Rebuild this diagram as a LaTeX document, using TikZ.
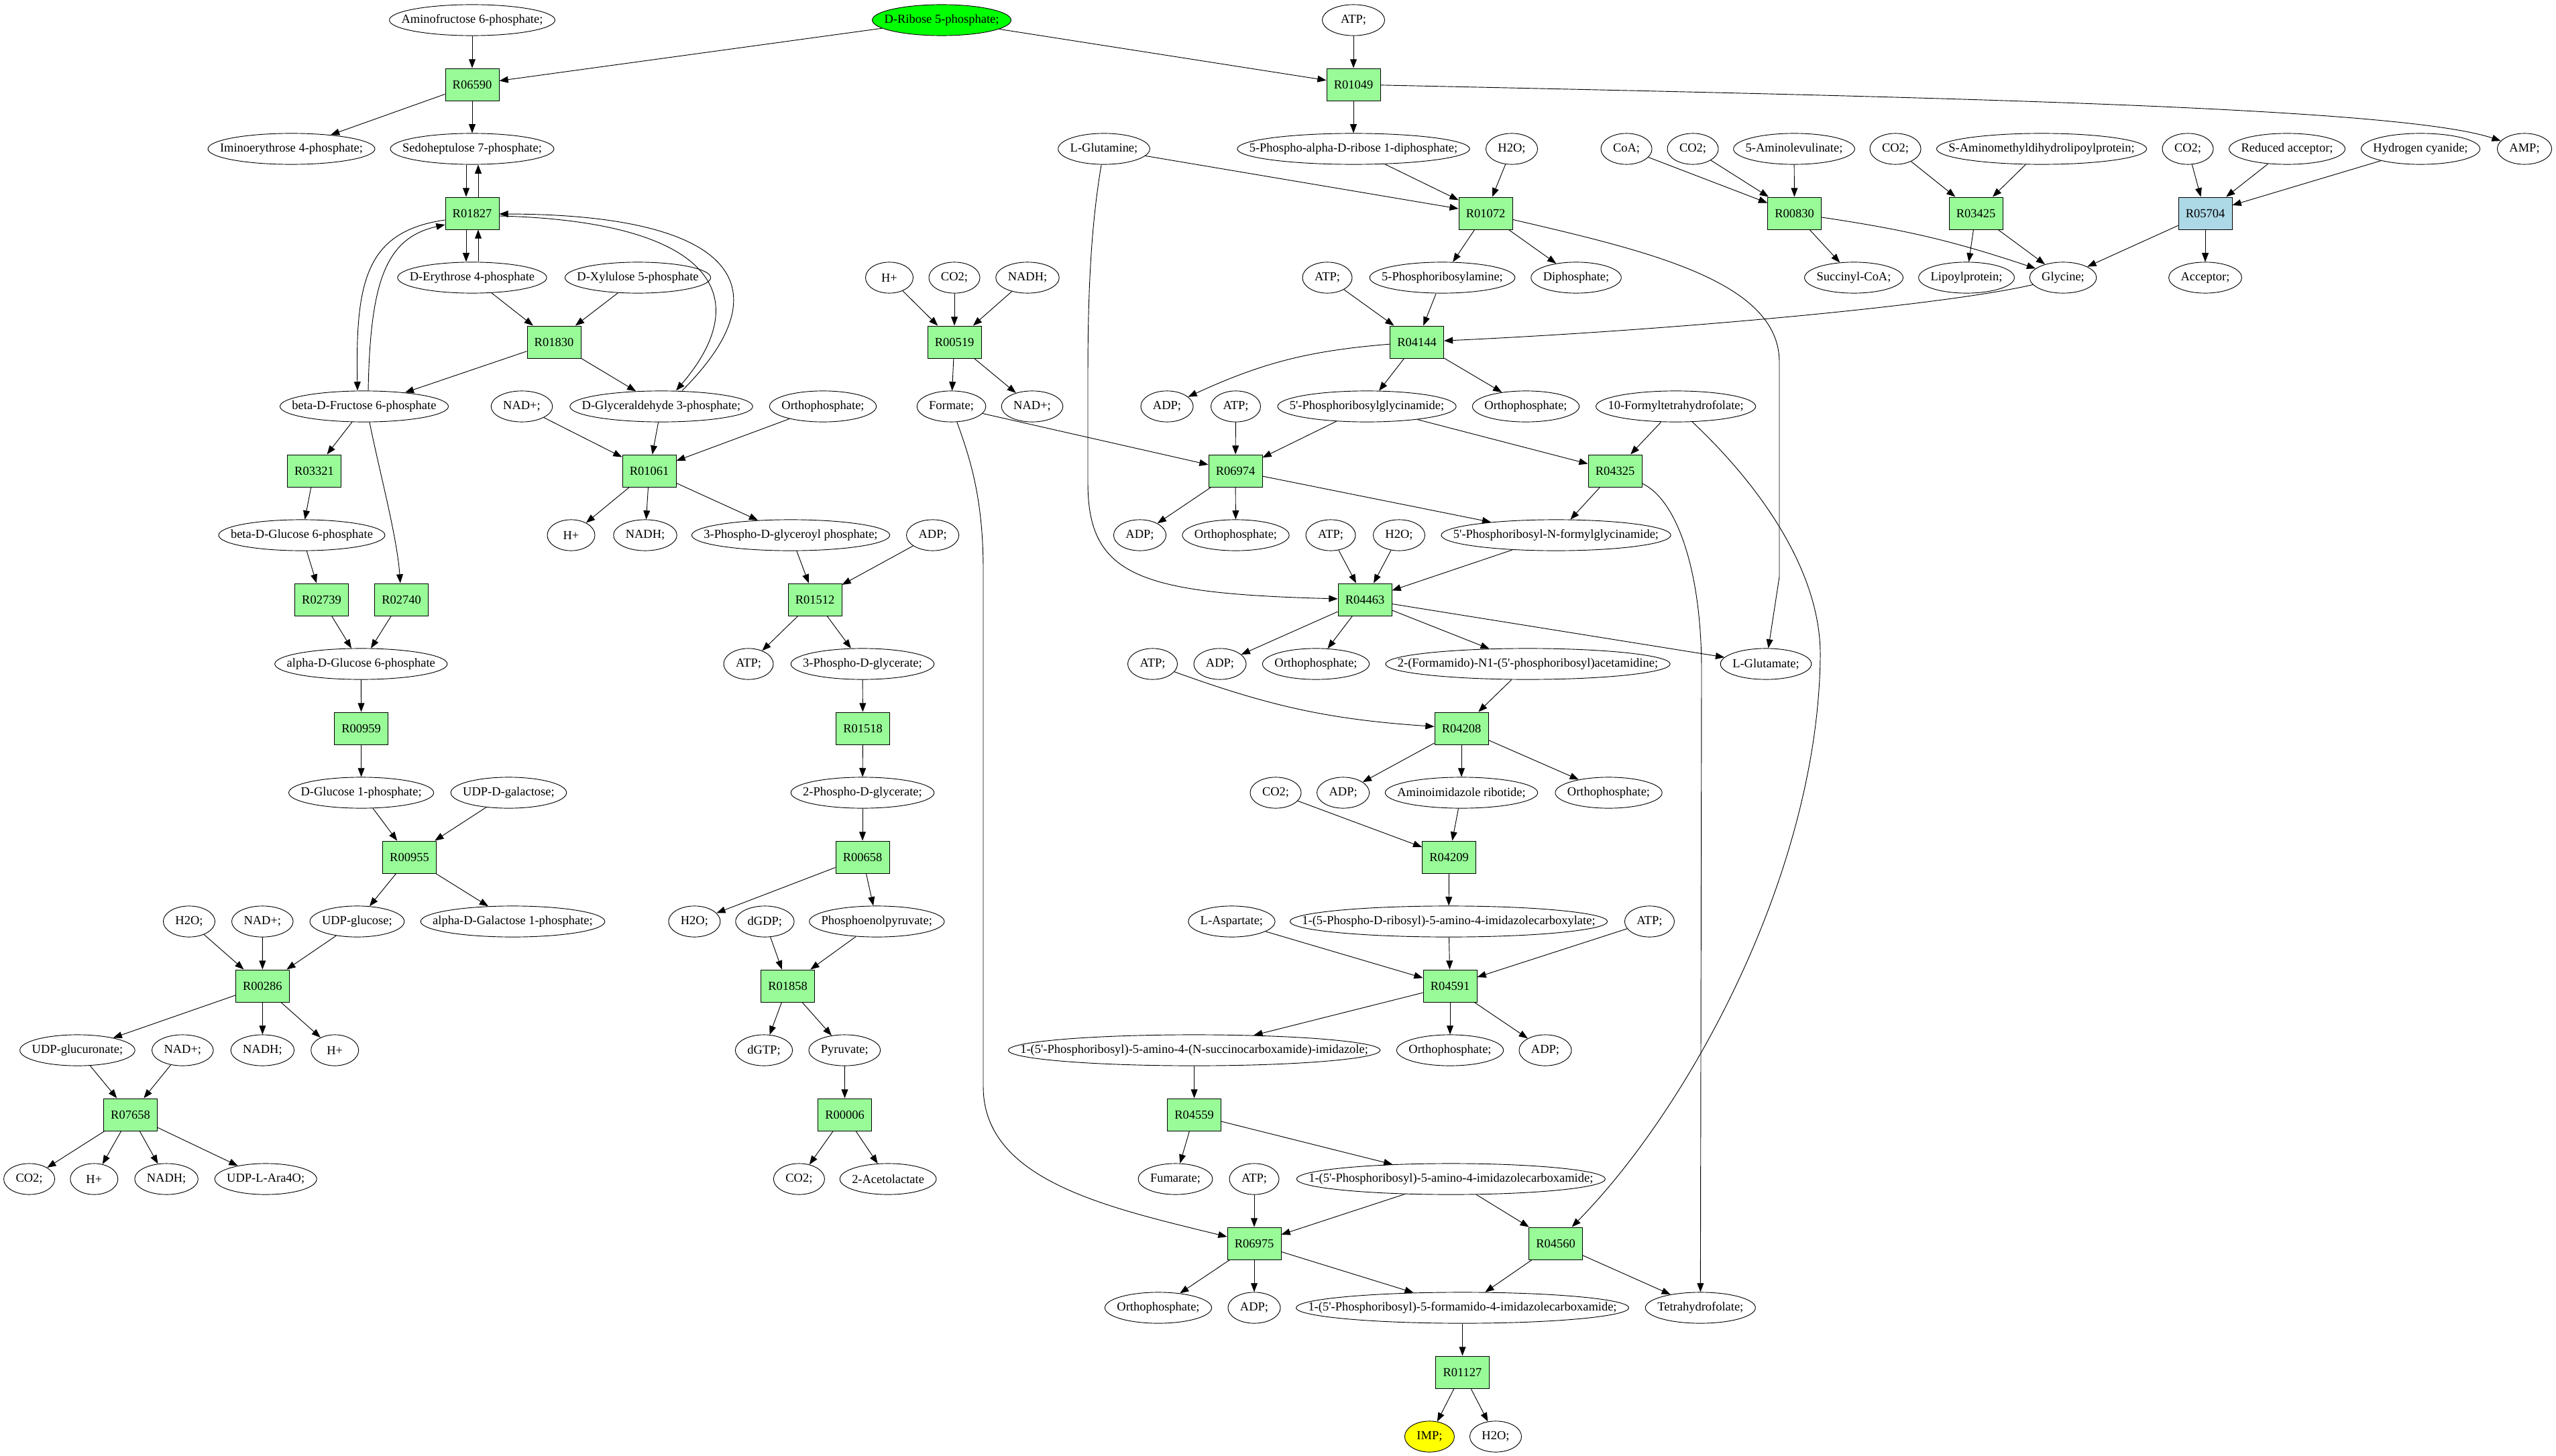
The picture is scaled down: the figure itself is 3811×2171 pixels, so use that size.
\documentclass[tikz,border=0pt]{standalone}
\usepackage{fontspec}
\newfontfamily\gvfont{Liberation Serif}
\usetikzlibrary{arrows.meta,shapes.geometric}
\newcommand\gvf{\gvfont\fontsize{14pt}{16pt}\selectfont}
\newcommand\ml[1]{\makebox[0.7071\width]{#1}}
\definecolor{pgreen}{HTML}{98FB98}
\definecolor{lblue}{HTML}{ADD8E6}
\definecolor{vgreen}{HTML}{00FF00}
\definecolor{vyellow}{HTML}{FFFF00}
\tikzset{
 met/.style={ellipse, draw, line width=0.7pt, font=\gvf, inner xsep=9.65pt, inner ysep=1pt, minimum width=53.8pt, minimum height=35pt},
 rxn/.style={rectangle, draw, line width=0.7pt, fill=pgreen, font=\gvf, minimum width=60.6pt, minimum height=36.4pt, inner sep=0pt},
 arr/.style={-{Triangle[length=10pt,width=7.5pt]}, line width=0.7pt},
}
\begin{document}
\begin{tikzpicture}[x=0.7576pt,y=-0.7576pt]
\fill[white] (0,0) rectangle (3811,2171);
\useasboundingbox (0,0) rectangle (3811,2171);
% row 0
\node[met] (amf) at (704,30) {\ml{Aminofructose 6-phosphate;}};
\node[met, fill=vgreen] (r5p) at (1404,30) {\ml{D-Ribose 5-phosphate;}};
\node[met, minimum width=70.5pt] (atpA) at (2018,30) {\ml{ATP;}};
% row 1
\node[rxn] (R06590) at (704,126) {R06590};
\node[rxn] (R01049) at (2018,126) {R01049};
% row 2
\node[met] (imi) at (434.5,222) {\ml{Iminoerythrose 4-phosphate;}};
\node[met] (sed) at (704,222) {\ml{Sedoheptulose 7-phosphate;}};
\node[met] (gln) at (1646,222) {\ml{L-Glutamine;}};
\node[met] (prpp) at (2018,222) {\ml{5-Phospho-alpha-D-ribose 1-diphosphate;}};
\node[met] (h2oA) at (2254,222) {\ml{H2O;}};
\node[met] (coa) at (2425,222) {\ml{CoA;}};
\node[met] (co2A) at (2524,222) {\ml{CO2;}};
\node[met] (ala) at (2675,222) {\ml{5-Aminolevulinate;}};
\node[met] (co2B) at (2826,222) {\ml{CO2;}};
\node[met] (samdl) at (3044,222) {\ml{S-Aminomethyldihydrolipoylprotein;}};
\node[met] (co2C) at (3262,222) {\ml{CO2;}};
\node[met] (redacc) at (3410,222) {\ml{Reduced acceptor;}};
\node[met] (hcn) at (3609,222) {\ml{Hydrogen cyanide;}};
\node[met] (amp) at (3764,222) {\ml{AMP;}};
% row 3
\node[rxn] (R01827) at (704,318) {R01827};
\node[rxn] (R01072) at (2215,318) {R01072};
\node[rxn] (R00830) at (2675.6,318) {R00830};
\node[rxn] (R03425) at (2946,318) {R03425};
\node[rxn, fill=lblue] (R05704) at (3288,318) {R05704};
% row 4
\node[met] (e4p) at (704,414) {\ml{D-Erythrose 4-phosphate}};
\node[met] (x5p) at (951,414) {\ml{D-Xylulose 5-phosphate}};
\node[met] (hA) at (1326,414) {\ml{H+}};
\node[met] (co2D) at (1423,414) {\ml{CO2;}};
\node[met] (nadhA) at (1532,414) {\ml{NADH;}};
\node[met] (atpB) at (1979,414) {\ml{ATP;}};
\node[met] (pra) at (2150.5,414) {\ml{5-Phosphoribosylamine;}};
\node[met] (ppi) at (2350,414) {\ml{Diphosphate;}};
\node[met] (succoa) at (2764,414) {\ml{Succinyl-CoA;}};
\node[met] (lipo) at (2932,414) {\ml{Lipoylprotein;}};
\node[met] (gly) at (3076,414) {\ml{Glycine;}};
\node[met] (acc) at (3288,414) {\ml{Acceptor;}};
% row 5
\node[rxn] (R01830) at (826,510) {R01830};
\node[rxn] (R00519) at (1423,510) {R00519};
\node[rxn] (R04144) at (2112.5,510) {R04144};
% row 6
\node[met] (f6p) at (543,606) {\ml{beta-D-Fructose 6-phosphate}};
\node[met] (nadA) at (778,606) {\ml{NAD+;}};
\node[met] (g3p) at (986,606) {\ml{D-Glyceraldehyde 3-phosphate;}};
\node[met] (piA) at (1227,606) {\ml{Orthophosphate;}};
\node[met] (formate) at (1418.5,606) {\ml{Formate;}};
\node[met] (nadB) at (1539,606) {\ml{NAD+;}};
\node[met] (adpA) at (1740,606) {\ml{ADP;}};
\node[met] (atpC) at (1842.5,606) {\ml{ATP;}};
\node[met] (gar) at (2038,606) {\ml{5'-Phosphoribosylglycinamide;}};
\node[met] (piB) at (2275,606) {\ml{Orthophosphate;}};
\node[met] (fthf) at (2498.6,606) {\ml{10-Formyltetrahydrofolate;}};
% row 7
\node[rxn] (R03321) at (468.5,702) {R03321};
\node[rxn] (R01061) at (968,702) {R01061};
\node[rxn] (R06974) at (1842,702) {R06974};
\node[rxn] (R04325) at (2408,702) {R04325};
% row 8
\node[met] (bg6p) at (450,798) {\ml{beta-D-Glucose 6-phosphate}};
\node[met] (hB) at (851.5,798) {\ml{H+}};
\node[met] (nadhB) at (962,798) {\ml{NADH;}};
\node[met] (bpg) at (1179,798) {\ml{3-Phospho-D-glyceroyl phosphate;}};
\node[met] (adpB) at (1390.6,798) {\ml{ADP;}};
\node[met] (adpC) at (1699.5,798) {\ml{ADP;}};
\node[met] (piC) at (1842.5,798) {\ml{Orthophosphate;}};
\node[met] (atpD) at (1984,798) {\ml{ATP;}};
\node[met] (h2oB) at (2086,798) {\ml{H2O;}};
\node[met] (fgar) at (2320,798) {\ml{5'-Phosphoribosyl-N-formylglycinamide;}};
% row 9
\node[rxn] (R02739) at (479.5,894) {R02739};
\node[rxn] (R02740) at (598.6,894) {R02740};
\node[rxn] (R01512) at (1215,894) {R01512};
\node[rxn] (R04463) at (2035,894) {R04463};
% row 10
\node[met] (ag6p) at (538.3,990) {\ml{alpha-D-Glucose 6-phosphate}};
\node[met] (atpE) at (1116,990) {\ml{ATP;}};
\node[met] (pg3) at (1286,990) {\ml{3-Phospho-D-glycerate;}};
\node[met] (atpF) at (1718.5,990) {\ml{ATP;}};
\node[met] (adpD) at (1819,990) {\ml{ADP;}};
\node[met] (piD) at (1962,990) {\ml{Orthophosphate;}};
\node[met] (fgam) at (2278,990) {\ml{2-(Formamido)-N1-(5'-phosphoribosyl)acetamidine;}};
\node[met] (glu) at (2633,990) {\ml{L-Glutamate;}};
% row 11
\node[rxn] (R00959) at (538.6,1086) {R00959};
\node[rxn] (R01518) at (1286.5,1086) {R01518};
\node[rxn] (R04208) at (2179,1086) {R04208};
% row 12
\node[met] (g1p) at (538.6,1182) {\ml{D-Glucose 1-phosphate;}};
\node[met] (udpgal) at (758.4,1182) {\ml{UDP-D-galactose;}};
\node[met] (pg2) at (1286,1182) {\ml{2-Phospho-D-glycerate;}};
\node[met] (co2E) at (1902,1182) {\ml{CO2;}};
\node[met] (adpE) at (2002.6,1182) {\ml{ADP;}};
\node[met] (air) at (2179,1182) {\ml{Aminoimidazole ribotide;}};
\node[met] (piE) at (2398.5,1182) {\ml{Orthophosphate;}};
% row 13
\node[rxn] (R00955) at (610.5,1278) {R00955};
\node[rxn] (R00658) at (1286,1278) {R00658};
\node[rxn] (R04209) at (2160.6,1278) {R04209};
% row 14
\node[met] (h2oC) at (282,1374) {\ml{H2O;}};
\node[met] (nadC) at (391.3,1374) {\ml{NAD+;}};
\node[met] (udpglc) at (532.4,1374) {\ml{UDP-glucose;}};
\node[met] (gal1p) at (764.5,1374) {\ml{alpha-D-Galactose 1-phosphate;}};
\node[met] (h2oD) at (1035.4,1374) {\ml{H2O;}};
\node[met] (dgdp) at (1140.4,1374) {\ml{dGDP;}};
\node[met] (pep) at (1307.3,1374) {\ml{Phosphoenolpyruvate;}};
\node[met] (asp) at (1836.4,1374) {\ml{L-Aspartate;}};
\node[met] (cair) at (2160,1374) {\ml{1-(5-Phospho-D-ribosyl)-5-amino-4-imidazolecarboxylate;}};
\node[met] (atpG) at (2459.4,1374) {\ml{ATP;}};
% row 15
\node[rxn] (R00286) at (391.4,1470) {R00286};
\node[rxn] (R01858) at (1174.5,1470) {R01858};
\node[rxn] (R04591) at (2162,1470) {R04591};
% row 16
\node[met] (udpgla) at (115.4,1566) {\ml{UDP-glucuronate;}};
\node[met] (nadD) at (272.3,1566) {\ml{NAD+;}};
\node[met] (nadhC) at (391.4,1566) {\ml{NADH;}};
\node[met] (hC) at (499.2,1566) {\ml{H+}};
\node[met] (dgtp) at (1139,1566) {\ml{dGTP;}};
\node[met] (pyr) at (1259.3,1566) {\ml{Pyruvate;}};
\node[met] (saicar) at (1780.6,1566) {\ml{1-(5'-Phosphoribosyl)-5-amino-4-(N-succinocarboxamide)-imidazole;}};
\node[met] (piF) at (2162,1566) {\ml{Orthophosphate;}};
\node[met] (adpF) at (2304,1566) {\ml{ADP;}};
% row 17
\node[rxn] (R07658) at (194.5,1662) {R07658};
\node[rxn] (R00006) at (1259.6,1662) {R00006};
\node[rxn] (R04559) at (1780.6,1662) {R04559};
% row 18
\node[met] (co2F) at (43.6,1758) {\ml{CO2;}};
\node[met] (hD) at (140.3,1758) {\ml{H+}};
\node[met] (nadhD) at (248.1,1758) {\ml{NADH;}};
\node[met] (udpara) at (396.2,1758) {\ml{UDP-L-Ara4O;}};
\node[met] (co2G) at (1191.4,1758) {\ml{CO2;}};
\node[met] (acl) at (1324.1,1758) {\ml{2-Acetolactate}};
\node[met] (fum) at (1752.5,1758) {\ml{Fumarate;}};
\node[met] (atpH) at (1870,1758) {\ml{ATP;}};
\node[met] (aicar) at (2163.3,1758) {\ml{1-(5'-Phosphoribosyl)-5-amino-4-imidazolecarboxamide;}};
% row 19
\node[rxn] (R06975) at (1870,1854) {R06975};
\node[rxn] (R04560) at (2319.6,1854) {R04560};
% row 20
\node[met] (piG) at (1727,1950) {\ml{Orthophosphate;}};
\node[met] (adpG) at (1870,1950) {\ml{ADP;}};
\node[met] (faicar) at (2180.5,1950) {\ml{1-(5'-Phosphoribosyl)-5-formamido-4-imidazolecarboxamide;}};
\node[met] (thf) at (2535.3,1950) {\ml{Tetrahydrofolate;}};
% row 21
\node[rxn] (R01127) at (2180.5,2046) {R01127};
% row 22
\node[met, fill=vyellow] (imp) at (2131.4,2142) {\ml{IMP;}};
\node[met] (h2oE) at (2230,2142) {\ml{H2O;}};

% ---------- edges ----------
\draw[arr] (amf) -- (R06590);
\draw[arr] (r5p) -- (R06590);
\draw[arr] (r5p) -- (R01049);
\draw[arr] (atpA) -- (R01049);
\draw[arr] (R06590) -- (imi);
\draw[arr] (R06590) -- (sed);
\draw[arr] (R01049) -- (prpp);
\draw[arr] (R01049) .. controls (2900,145) and (3580,160) .. (amp);
% R01827 reversible pairs
\draw[arr] ([shift={(-9,0)}]sed.south) -- ([shift={(-9,0)}]R01827.north);
\draw[arr] ([shift={(9,0)}]R01827.north) -- ([shift={(9,0)}]sed.south);
\draw[arr] ([shift={(-9,0)}]R01827.south) -- ([shift={(-9,0)}]e4p.north);
\draw[arr] ([shift={(9,0)}]e4p.north) -- ([shift={(9,0)}]R01827.south);
\draw[arr] ([shift={(0,10)}]R01827.west) .. controls (545,345) and (530,420) .. ([shift={(-10,0)}]f6p.north);
\draw[arr] ([shift={(6,0)}]f6p.north) .. controls (552,420) and (575,355) .. ([shift={(0,17)}]R01827.west);
\draw[arr] ([shift={(0,4)}]R01827.east) .. controls (1060,330) and (1130,440) .. ([shift={(22,0)}]g3p.north);
\draw[arr] ([shift={(31,0)}]g3p.north) .. controls (1170,430) and (1100,320) .. ([shift={(0,1)}]R01827.east);
\draw[arr] (e4p) -- (R01830);
\draw[arr] (x5p) -- (R01830);
\draw[arr] (R01830) -- (f6p);
\draw[arr] (R01830) -- (g3p);
\draw[arr] (f6p) -- (R03321);
\draw[arr] ([shift={(8,0)}]f6p.south) .. controls (565,700) and (592,800) .. (R02740);
\draw[arr] (R03321) -- (bg6p);
\draw[arr] (bg6p) -- (R02739);
\draw[arr] (R02739) -- (ag6p);
\draw[arr] (R02740) -- (ag6p);
\draw[arr] (ag6p) -- (R00959);
\draw[arr] (R00959) -- (g1p);
\draw[arr] (g1p) -- (R00955);
\draw[arr] (udpgal) -- (R00955);
\draw[arr] (R00955) -- (udpglc);
\draw[arr] (R00955) -- (gal1p);
\draw[arr] (h2oC) -- (R00286);
\draw[arr] (nadC) -- (R00286);
\draw[arr] (udpglc) -- (R00286);
\draw[arr] (R00286) -- (udpgla);
\draw[arr] (R00286) -- (nadhC);
\draw[arr] (R00286) -- (hC);
\draw[arr] (udpgla) -- (R07658);
\draw[arr] (nadD) -- (R07658);
\draw[arr] (R07658) -- (co2F);
\draw[arr] (R07658) -- (hD);
\draw[arr] (R07658) -- (nadhD);
\draw[arr] (R07658) -- (udpara);
\draw[arr] (nadA) -- (R01061);
\draw[arr] (g3p) -- (R01061);
\draw[arr] (piA) -- (R01061);
\draw[arr] (R01061) -- (hB);
\draw[arr] (R01061) -- (nadhB);
\draw[arr] (R01061) -- (bpg);
\draw[arr] (bpg) -- (R01512);
\draw[arr] (adpB) -- (R01512);
\draw[arr] (R01512) -- (atpE);
\draw[arr] (R01512) -- (pg3);
\draw[arr] (pg3) -- (R01518);
\draw[arr] (R01518) -- (pg2);
\draw[arr] (pg2) -- (R00658);
\draw[arr] (R00658) -- (h2oD);
\draw[arr] (R00658) -- (pep);
\draw[arr] (dgdp) -- (R01858);
\draw[arr] (pep) -- (R01858);
\draw[arr] (R01858) -- (dgtp);
\draw[arr] (R01858) -- (pyr);
\draw[arr] (pyr) -- (R00006);
\draw[arr] (R00006) -- (co2G);
\draw[arr] (R00006) -- (acl);
\draw[arr] (hA) -- (R00519);
\draw[arr] (co2D) -- (R00519);
\draw[arr] (nadhA) -- (R00519);
\draw[arr] (R00519) -- (formate);
\draw[arr] (R00519) -- (nadB);
\draw[arr] (formate) -- (R06974);
\draw[arr] (formate) .. controls (1445,680) and (1466,740) .. (1466,850) -- (1466,1620) .. controls (1466,1760) and (1650,1800) .. (R06975);
\draw[arr] (gln) -- (R01072);
\draw[arr] (gln) .. controls (1628,330) and (1622,420) .. (1622,560) -- (1622,720) .. controls (1622,860) and (1700,885) .. (R04463);
\draw[arr] (prpp) -- (R01072);
\draw[arr] (h2oA) -- (R01072);
\draw[arr] (R01072) -- (pra);
\draw[arr] (R01072) -- (ppi);
\draw[arr] (R01072) .. controls (2460,375) and (2653,420) .. (2653,540) -- (2653,860) -- (glu);
\draw[arr] (atpB) -- (R04144);
\draw[arr] (pra) -- (R04144);
\draw[arr] (gly) .. controls (2900,455) and (2500,492) .. (R04144);
\draw[arr] (R04144) to[bend right=10] (adpA);
\draw[arr] (R04144) -- (gar);
\draw[arr] (R04144) -- (piB);
\draw[arr] (coa) -- (R00830);
\draw[arr] (co2A) -- (R00830);
\draw[arr] (ala) -- (R00830);
\draw[arr] (R00830) -- (succoa);
\draw[arr] (R00830) to[bend left=5] (gly);
\draw[arr] (co2B) -- (R03425);
\draw[arr] (samdl) -- (R03425);
\draw[arr] (R03425) -- (lipo);
\draw[arr] (R03425) -- (gly);
\draw[arr] (co2C) -- (R05704);
\draw[arr] (redacc) -- (R05704);
\draw[arr] (hcn) -- (R05704);
\draw[arr] (R05704) -- (gly);
\draw[arr] (R05704) -- (acc);
\draw[arr] (atpC) -- (R06974);
\draw[arr] (gar) -- (R06974);
\draw[arr] (gar) -- (R04325);
\draw[arr] (fthf) -- (R04325);
\draw[arr] (fthf) .. controls (2620,720) and (2716,850) .. (2714,980) .. controls (2710,1300) and (2520,1650) .. (R04560);
\draw[arr] (R06974) -- (adpC);
\draw[arr] (R06974) -- (piC);
\draw[arr] (R06974) -- (fgar);
\draw[arr] (R04325) -- (fgar);
\draw[arr] (R04325) .. controls (2500,745) and (2537,850) .. (2537,1000) -- (thf);
\draw[arr] (atpD) -- (R04463);
\draw[arr] (h2oB) -- (R04463);
\draw[arr] (fgar) -- (R04463);
\draw[arr] (R04463) -- (adpD);
\draw[arr] (R04463) -- (piD);
\draw[arr] (R04463) -- (fgam);
\draw[arr] (R04463) -- (glu);
\draw[arr] (fgam) -- (R04208);
\draw[arr] (atpF) to[bend right=8] (R04208);
\draw[arr] (R04208) -- (adpE);
\draw[arr] (R04208) -- (air);
\draw[arr] (R04208) -- (piE);
\draw[arr] (air) -- (R04209);
\draw[arr] (co2E) -- (R04209);
\draw[arr] (R04209) -- (cair);
\draw[arr] (cair) -- (R04591);
\draw[arr] (asp) -- (R04591);
\draw[arr] (atpG) -- (R04591);
\draw[arr] (R04591) -- (saicar);
\draw[arr] (R04591) -- (piF);
\draw[arr] (R04591) -- (adpF);
\draw[arr] (saicar) -- (R04559);
\draw[arr] (R04559) -- (fum);
\draw[arr] (R04559) -- (aicar);
\draw[arr] (atpH) -- (R06975);
\draw[arr] (aicar) -- (R06975);
\draw[arr] (aicar) -- (R04560);
\draw[arr] (R06975) -- (piG);
\draw[arr] (R06975) -- (adpG);
\draw[arr] (R06975) -- (faicar);
\draw[arr] (R04560) -- (faicar);
\draw[arr] (R04560) -- (thf);
\draw[arr] (faicar) -- (R01127);
\draw[arr] (R01127) -- (imp);
\draw[arr] (R01127) -- (h2oE);
\end{tikzpicture}
\end{document}
